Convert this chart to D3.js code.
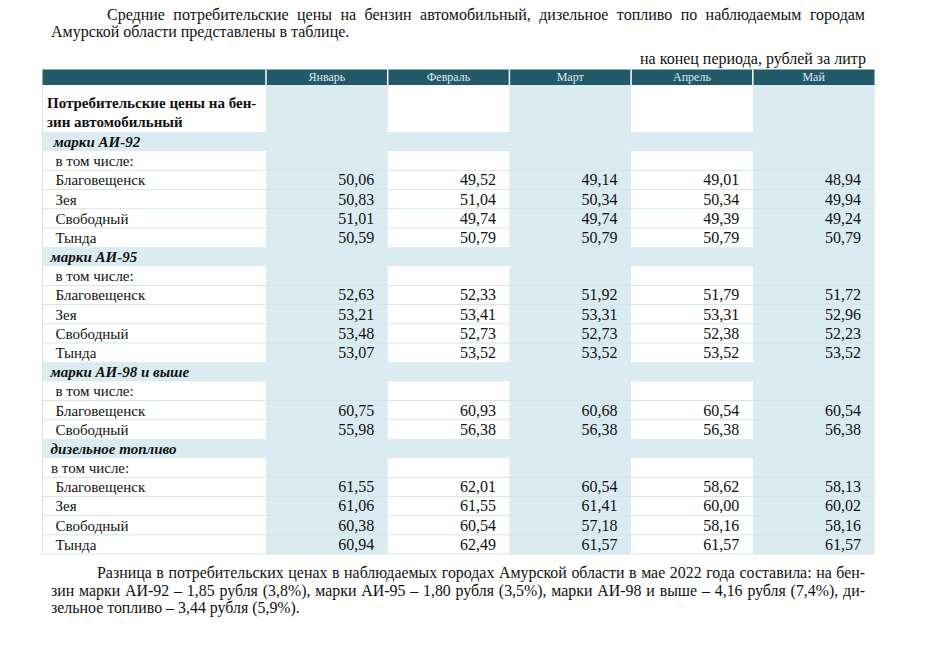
<!DOCTYPE html>
<html><head><meta charset="utf-8">
<script src="https://cdn.jsdelivr.net/npm/d3@7"></script>
<style>body{margin:0;background:#fff}svg{display:block}svg text{font-family:"Liberation Serif","Times New Roman",serif}</style>
</head><body>
<script>
const months = ["Январь","Февраль","Март","Апрель","Май"];
const introLines = ["Средние потребительские цены на бензин автомобильный, дизельное топливо по наблюдаемым городам","Амурской области представлены в таблице."];
const unitsLabel = "на конец периода, рублей за литр";
const headLabel = ["Потребительские цены на бен-","зин автомобильный"];
const sectionNames = ["марки АИ-92","марки АИ-95","марки АИ-98 и выше","дизельное топливо"];
const inclLabel = "в том числе:";
const citiesAI92 = ["Благовещенск","Зея","Свободный","Тында"];
const citiesAI95 = ["Благовещенск","Зея","Свободный","Тында"];
const citiesAI98 = ["Благовещенск","Свободный"];
const citiesDiesel = ["Благовещенск","Зея","Свободный","Тында"];
const valuesAI92 = [[50.06,49.52,49.14,49.01,48.94],[50.83,51.04,50.34,50.34,49.94],[51.01,49.74,49.74,49.39,49.24],[50.59,50.79,50.79,50.79,50.79]];
const valuesAI95 = [[52.63,52.33,51.92,51.79,51.72],[53.21,53.41,53.31,53.31,52.96],[53.48,52.73,52.73,52.38,52.23],[53.07,53.52,53.52,53.52,53.52]];
const valuesAI98 = [[60.75,60.93,60.68,60.54,60.54],[55.98,56.38,56.38,56.38,56.38]];
const valuesDiesel = [[61.55,62.01,60.54,58.62,58.13],[61.06,61.55,61.41,60.00,60.02],[60.38,60.54,57.18,58.16,58.16],[60.94,62.49,61.57,61.57,61.57]];
const footLines = ["Разница в потребительских ценах в наблюдаемых городах Амурской области в мае 2022 года составила: на бен-","зин марки АИ-92 – 1,85 рубля (3,8%), марки АИ-95 – 1,80 рубля (3,5%), марки АИ-98 и выше – 4,16 рубля (7,4%), ди-","зельное топливо – 3,44 рубля (5,9%)."];

const W=927,H=660;
const FONT="Liberation Serif";
const SHADE="#daecf2", LINE="#d3e6ec", HEAD="#235a69";
const svg=d3.select("body").append("svg").attr("width",W).attr("height",H).attr("font-family",FONT);

const sections=[[sectionNames[0],citiesAI92,valuesAI92],[sectionNames[1],citiesAI95,valuesAI95],[sectionNames[2],citiesAI98,valuesAI98],[sectionNames[3],citiesDiesel,valuesDiesel]];
const rows=[];
sections.forEach(([name,cities,vals],si)=>{
  rows.push({type:"sec",label:name,si});
  rows.push({type:"incl",label:inclLabel,si});
  cities.forEach((c,i)=>rows.push({type:"city",label:c,vals:vals[i],si}));
});

const tableL=42.5, labelR=266, tableR=874.5;
const x=d3.scaleBand().domain(months).range([labelR,tableR]);
const y=d3.scaleBand().domain(d3.range(rows.length)).range([132,554]);
const headTop=69.5, headBot=85;

function justify(g,text,x0,x1,yb,size){
  const words=text.split(" ");
  const t=g.append("text").attr("y",yb).attr("font-size",size).attr("fill","#111");
  const tmp=svg.append("text").attr("font-size",size);
  const widths=words.map(w=>{tmp.text(w);return tmp.node().getComputedTextLength();});
  tmp.remove();
  const total=d3.sum(widths);
  const gap=words.length>1?(x1-x0-total)/(words.length-1):0;
  let cx=x0;
  words.forEach((w,i)=>{t.append("tspan").attr("x",cx).text(w);cx+=widths[i]+gap;});
}

const g=svg.append("g");
justify(g,introLines[0],107,865,20,16);
g.append("text").attr("x",51).attr("y",37).attr("font-size",16).attr("fill","#111").text(introLines[1]);
g.append("text").attr("x",866).attr("y",64).attr("text-anchor","end").attr("font-size",16).attr("fill","#111").text(unitsLabel);

g.append("rect").attr("x",tableL).attr("y",headTop).attr("width",tableR-tableL).attr("height",headBot-headTop).attr("fill",HEAD);
months.forEach(m=>{
  g.append("line").attr("x1",x(m)).attr("x2",x(m)).attr("y1",headTop).attr("y2",headBot).attr("stroke","#fff").attr("stroke-width",1.5);
  g.append("text").attr("x",x(m)+x.bandwidth()/2).attr("y",81).attr("text-anchor","middle").attr("font-size",12).attr("fill","#dfe9ec").text(m);
});

months.forEach((m,i)=>{ if(i%2===0) g.append("rect").attr("x",x(m)).attr("y",headBot).attr("width",x.bandwidth()).attr("height",554-headBot).attr("fill",SHADE); });
rows.forEach((r,i)=>{ if(r.type==="sec") g.append("rect").attr("x",tableL).attr("y",y(i)).attr("width",tableR-tableL).attr("height",y.bandwidth()).attr("fill",SHADE); });
rows.forEach((r,i)=>{
  if(i>0 && r.type!=="sec" && rows[i-1].type!=="sec")
    g.append("line").attr("x1",tableL).attr("x2",tableR).attr("y1",y(i)).attr("y2",y(i)).attr("stroke",LINE).attr("stroke-width",1);
});
g.append("line").attr("x1",tableL).attr("x2",tableR).attr("y1",554).attr("y2",554).attr("stroke",LINE);
g.append("line").attr("x1",tableL).attr("x2",tableL).attr("y1",headBot).attr("y2",554).attr("stroke",LINE);

headLabel.forEach((t,i)=>g.append("text").attr("x",47).attr("y",108+i*19).attr("font-size",15).attr("font-weight","bold").attr("fill","#111").text(t));

const fmt=v=>d3.format(".2f")(v).replace(".",",");
rows.forEach((r,i)=>{
  const yb=y(i)+15;
  let lx=55.5;
  if(r.type==="sec"){ lx = r.si===0?53.5:50.5; }
  if(r.type==="incl"){ lx = r.si===3?51:55.5; }
  const t=g.append("text").attr("x",lx).attr("y",yb).attr("font-size",15).attr("fill","#111").text(r.label);
  if(r.type==="sec") t.attr("font-weight","bold").attr("font-style","italic");
  if(r.type==="city"){
    r.vals.forEach((v,j)=>g.append("text").attr("x",x(months[j])+x.bandwidth()-13.5).attr("y",yb).attr("text-anchor","end").attr("font-size",16).attr("fill","#111").text(fmt(v)));
  }
});

justify(g,footLines[0],97,865,578,15.9);
justify(g,footLines[1],51,865,596,15.9);
g.append("text").attr("x",51).attr("y",613).attr("font-size",15.9).attr("fill","#111").text(footLines[2]);
</script>
</body></html>
